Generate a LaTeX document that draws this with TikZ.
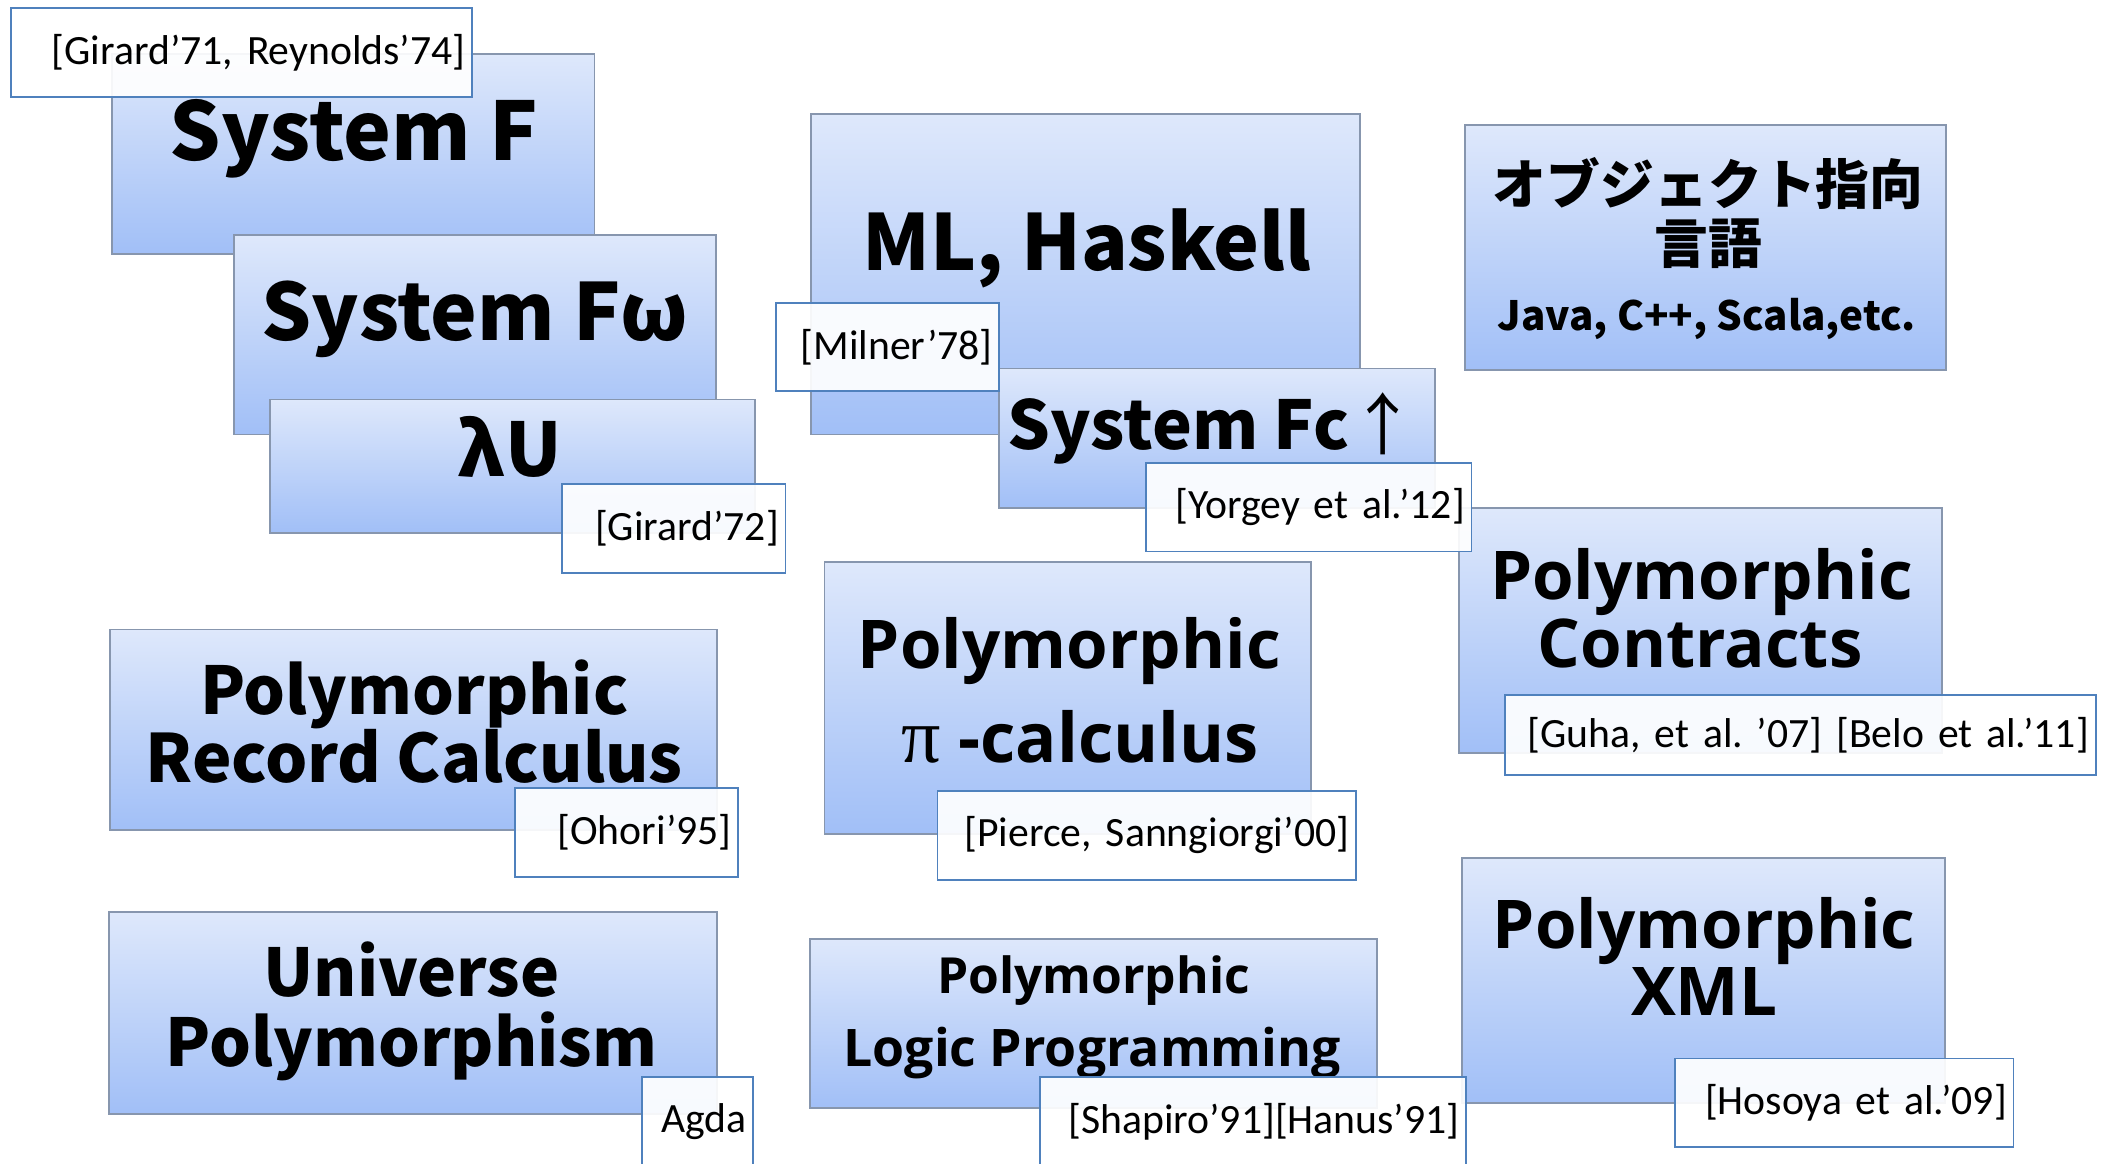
\documentclass[tikz,border=0pt]{standalone}
\usepackage{fontspec}
\setmainfont{Carlito}[WordSpace=0.8]
\newfontfamily\ttlfont{Noto Sans CJK JP}
\newfontfamily\widefont{Open Sans}
\newfontfamily\serifpi{Liberation Serif}
\usetikzlibrary{positioning}
\definecolor{boxtop}{HTML}{DEE8FB}
\definecolor{boxbot}{HTML}{A1BFF7}
\definecolor{boxline}{HTML}{8796AE}
\definecolor{refline}{HTML}{4F81BD}
\frenchspacing

\begin{document}
\begin{tikzpicture}[x=1pt, y=-1pt,
    pbox/.style={draw=boxline, line width=1.4pt, top color=boxtop, bottom color=boxbot, inner sep=0pt},
    cite/.style={draw=refline, line width=1.4pt, fill=white, fill opacity=0.92, text opacity=1,
        inner xsep=5pt, inner ysep=0pt, align=right, minimum height=66pt, font=\fontsize{31}{31}\selectfont},
    ttl/.style={anchor=base, inner sep=0pt, font=\ttlfont\bfseries\fontsize{#1}{#1}\selectfont},
    wide/.style={anchor=base, inner sep=0pt, font=\widefont\bfseries\fontsize{#1}{#1}\selectfont}
]
    \useasboundingbox (0,0) rectangle (1568,865);
    \clip (0,0) rectangle (1568,865);

    % left column
    \node[pbox, minimum width=359pt, minimum height=149pt] (sysf) at (262.5,114.5) {};
    \node[ttl=60] (sysftxt) at (263,119) {System F};
    \node[pbox, minimum width=358pt, minimum height=148pt] (sysfw) at (353,249) {};
    \node[ttl=58.5] (sysfwtxt) at (353,253) {System Fω};
    \node[pbox, minimum width=360pt, minimum height=99pt] (lamu) at (381,346.5) {};
    \node[ttl=55] (lamutxt) at (379,354) {λU};

    % middle column
    \node[pbox, minimum width=408pt, minimum height=238pt] (mlhs) at (807,204) {};
    \node[ttl=57.5] (mlhstxt) at (808,201) {ML, Haskell};
    \node[pbox, minimum width=324pt, minimum height=104pt] (sysfc) at (905,326) {};
    \node[ttl=50] (sysfctxt) at (901,334) {System Fc{\mdseries ↑}};

    % right column
    \node[pbox, minimum width=358pt, minimum height=182pt] (oolang) at (1268,184) {};
    \node[ttl=40] (ootxta) at (1270,152) {オブジェクト指向};
    \node[ttl=40] (ootxtb) at (1270,196) {言語};
    \node[ttl=30] (ootxtc) at (1269,246) {Java, C++, Scala,etc.};
    \node[pbox, minimum width=359pt, minimum height=182pt] (contr) at (1264.5,469) {};
    \node[wide=50] (contrtxta) at (1265,446) {Polymorphic};
    \node[wide=50] (contrtxtb) at (1264,496) {Contracts};

    % lower rows
    \node[pbox, minimum width=451pt, minimum height=149pt] (record) at (307.5,542.5) {};
    \node[ttl=49] (recordtxta) at (308,531) {Polymorphic};
    \node[ttl=49.5] (recordtxtb) at (308,582) {Record Calculus};
    \node[pbox, minimum width=362pt, minimum height=202pt] (picalc) at (794,519) {};
    \node[wide=50] (picalctxta) at (795,497) {Polymorphic};
    \node[wide=51] (picalctxtb) at (803,567) {{\serifpi\mdseries\fontsize{58}{58}\selectfont π} -calculus};
    \node[pbox, minimum width=452pt, minimum height=150pt] (univ) at (307,753) {};
    \node[ttl=49] (univtxta) at (306,741) {Universe};
    \node[ttl=49] (univtxtb) at (306,793) {Polymorphism};
    \node[pbox, minimum width=422pt, minimum height=126pt] (logic) at (813,761) {};
    \node[wide=37] (logictxta) at (813,739) {Polymorphic};
    \node[wide=38.5] (logictxtb) at (812,793) {Logic Programming};
    \node[pbox, minimum width=359pt, minimum height=182pt] (xml) at (1266.5,729) {};
    \node[wide=50] (xmltxta) at (1267,705) {Polymorphic};
    \node[wide=50] (xmltxtb) at (1267,755) {XML};

    % references
    \node[cite, text width=333pt] (girard71) at (179.5,39) {[Girard’71, Reynolds’74]};
    \node[cite, text width=156pt] (girard72) at (501,393) {[Girard’72]};
    \node[cite, text width=156pt] (milner) at (660,258) {[Milner’78]};
    \node[cite, text width=232pt] (yorgey) at (973,377) {[Yorgey et al.’12]};
    \node[cite, text width=429pt, minimum height=59pt] (guha) at (1338.5,546.5) {[Guha, et al. ’07] [Belo et al.’11]};
    \node[cite, text width=156pt] (ohori) at (466,619) {[Ohori’95]};
    \node[cite, text width=301pt] (pierce) at (852.5,621) {[Pierce, Sanngiorgi’00]};
    \node[cite, text width=73pt] (agda) at (518.5,834) {Agda};
    \node[cite, text width=307pt] (shapiro) at (931.5,834) {[Shapiro’91][Hanus’91]};
    \node[cite, text width=242pt] (hosoya) at (1371,820) {[Hosoya et al.’09]};
\end{tikzpicture}
\end{document}
